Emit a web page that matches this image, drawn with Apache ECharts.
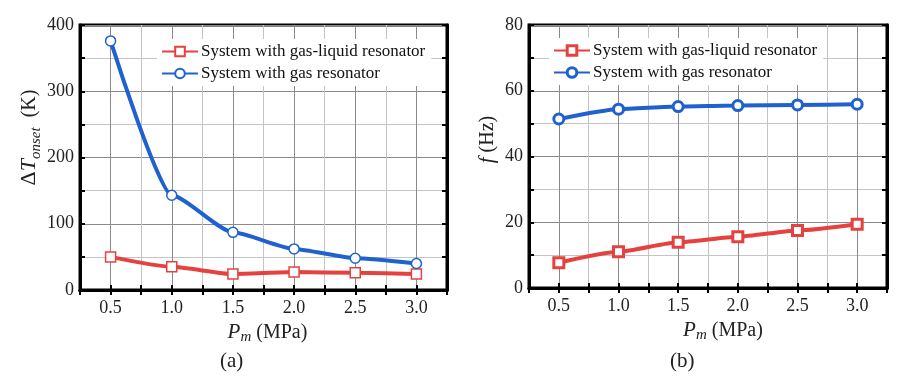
<!DOCTYPE html>
<html><head><meta charset="utf-8">
<script src="https://cdn.jsdelivr.net/npm/echarts@6/dist/echarts.min.js"></script>
<style>html,body{margin:0;padding:0;background:#fff}#c{width:907px;height:380px}</style>
</head><body><div id="c"></div>
<script>
const pressures = [0.5, 1.0, 1.5, 2.0, 2.5, 3.0];
const seriesNames = ['System with gas-liquid resonator', 'System with gas resonator'];
const onsetGasLiquid = [50, 35, 24, 27, 26, 24];
const onsetGas = [376, 143, 87, 62, 48, 40];
const freqGasLiquid = [7.7, 11.0, 13.9, 15.6, 17.5, 19.4];
const freqGas = [51.4, 54.4, 55.2, 55.5, 55.7, 55.9];
const xTickLabels = ['0.5', '1.0', '1.5', '2.0', '2.5', '3.0'];
const captions = ['(a)', '(b)'];

const RED = '#e5413f', BLUE = '#1f61cf';
const FONT = '"Liberation Serif", "Times New Roman", serif';
const chart = echarts.init(document.getElementById('c'), null, {renderer: 'canvas'});

function pairs(ys) { return pressures.map((x, i) => [x, ys[i]]); }

function xAxes(gi) {
  return [{
    type: 'value', gridIndex: gi, min: 0.25, max: 3.25, interval: 0.25,
    axisLine: {show: true, lineStyle: {color: '#000', width: 3}},
    axisTick: {show: true, inside: true, length: 5, lineStyle: {color: '#000', width: 2}},
    axisLabel: {fontFamily: FONT, fontSize: 18, color: '#222', margin: 9,
      formatter: v => { const s = v.toFixed(1); return xTickLabels.includes(s) && Math.abs(v*2 - Math.round(v*2)) < 1e-6 ? s : ''; }},
    splitLine: {show: true, lineStyle: {color: ['#c4c4c4', '#8a8a8a'], width: 1}},
    name: '{i|P}{s|m}{n| (MPa)}', nameLocation: 'middle', nameGap: 27,
    nameTextStyle: {fontFamily: FONT, fontSize: 20, color: '#222', padding: [0, 0, 0, gi === 0 ? 8 : 30],
      rich: {i: {fontFamily: FONT, fontSize: 21, fontStyle: 'italic', color: '#222'},
             s: {fontFamily: FONT, fontSize: 15, fontStyle: 'italic', color: '#222', verticalAlign: 'bottom', padding: [10, 0, 0, 0]},
             n: {fontFamily: FONT, fontSize: 20, color: '#222'}}}
  }, {
    type: 'value', gridIndex: gi, position: 'top', min: 0.25, max: 3.25, interval: 0.25,
    axisLine: {show: true, lineStyle: {color: '#000', width: 3}},
    axisTick: {show: true, inside: true, length: 5, lineStyle: {color: '#000', width: 2}},
    axisLabel: {show: false}, splitLine: {show: false}
  }];
}

function yAxes(gi, max, interval, labelStep, nameRich, pad, gap) {
  return [{
    type: 'value', gridIndex: gi, min: 0, max: max, interval: interval,
    axisLine: {show: true, lineStyle: {color: '#000', width: 3}},
    axisTick: {show: true, inside: true, length: 5, lineStyle: {color: '#000', width: 2}},
    axisLabel: {fontFamily: FONT, fontSize: 18, color: '#222', margin: 6,
      formatter: v => (Math.round(v) % labelStep === 0 ? String(v) : '')},
    splitLine: {show: true, lineStyle: {color: ['#8a8a8a', '#c4c4c4'], width: 1}},
    name: nameRich.text, nameLocation: 'middle', nameGap: gap, nameRotate: 90,
    nameTextStyle: {fontFamily: FONT, fontSize: 20, color: '#222', padding: [0, 0, 0, pad], rich: nameRich.rich}
  }, {
    type: 'value', gridIndex: gi, position: 'right', min: 0, max: max, interval: interval,
    axisLine: {show: true, lineStyle: {color: '#000', width: 3}},
    axisTick: {show: true, inside: true, length: 5, lineStyle: {color: '#000', width: 2}},
    axisLabel: {show: false}, splitLine: {show: false}
  }];
}

const leftName = {
  text: '{d|Δ}{t|T}{s|onset}{n|  (K)}',
  rich: {d: {fontFamily: FONT, fontSize: 22, color: '#222'},
         t: {fontFamily: FONT, fontSize: 22, fontStyle: 'italic', color: '#222'},
         s: {fontFamily: FONT, fontSize: 15, fontStyle: 'italic', color: '#222', verticalAlign: 'bottom', padding: [12, 0, 0, 0]},
         n: {fontFamily: FONT, fontSize: 20, color: '#222'}}
};
const rightName = {
  text: '{i|f}{n| (Hz)}',
  rich: {i: {fontFamily: FONT, fontSize: 21, fontStyle: 'italic', color: '#222'},
         n: {fontFamily: FONT, fontSize: 20, color: '#222'}}
};

function line(name, data, color, symbol, xi, yi, bw) {
  return {
    name: name, type: 'line', xAxisIndex: xi, yAxisIndex: yi, data: data,
    smooth: 0.2, smoothMonotone: 'x', symbol: symbol, symbolSize: 10, showSymbol: true,
    lineStyle: {color: color, width: 4},
    itemStyle: {color: '#fff', borderColor: color, borderWidth: bw},
    z: 5
  };
}

const legendCommon = {
  orient: 'vertical', itemWidth: 36, itemHeight: 12, itemGap: 5,
  backgroundColor: '#fff', padding: [4, 6, 4, 4],
  textStyle: {fontFamily: FONT, fontSize: 17, color: '#111', padding: [0, 0, 0, -2]},
  data: seriesNames, selectedMode: false
};

chart.setOption({
  animation: false,
  backgroundColor: '#fff',
  grid: [
    {left: 80, top: 25, width: 367, height: 265, show: true, borderColor: '#000', borderWidth: 3, containLabel: false},
    {left: 529, top: 25, width: 358, height: 263, show: true, borderColor: '#000', borderWidth: 3, containLabel: false}
  ],
  xAxis: [...xAxes(0), ...xAxes(1)],
  yAxis: [...yAxes(0, 400, 50, 100, leftName, 40, 35), ...yAxes(1, 80, 10, 20, rightName, 34, 31)],
  legend: [
    Object.assign({}, legendCommon, {left: 157, top: 39}),
    Object.assign({}, legendCommon, {left: 549, top: 38, itemStyle: {borderWidth: 3}})
  ],
  graphic: [
    {type: 'text', left: 220, top: 351, style: {text: captions[0], font: '21px ' + FONT, fill: '#222'}},
    {type: 'text', left: 670, top: 351, style: {text: captions[1], font: '21px ' + FONT, fill: '#222'}}
  ],
  series: [
    line(seriesNames[0], pairs(onsetGasLiquid), RED, 'rect', 0, 0, 1.5),
    line(seriesNames[1], pairs(onsetGas), BLUE, 'circle', 0, 0, 1.5),
    line(seriesNames[0], pairs(freqGasLiquid), RED, 'rect', 2, 2, 3),
    line(seriesNames[1], pairs(freqGas), BLUE, 'circle', 2, 2, 3)
  ]
});
</script></body></html>
